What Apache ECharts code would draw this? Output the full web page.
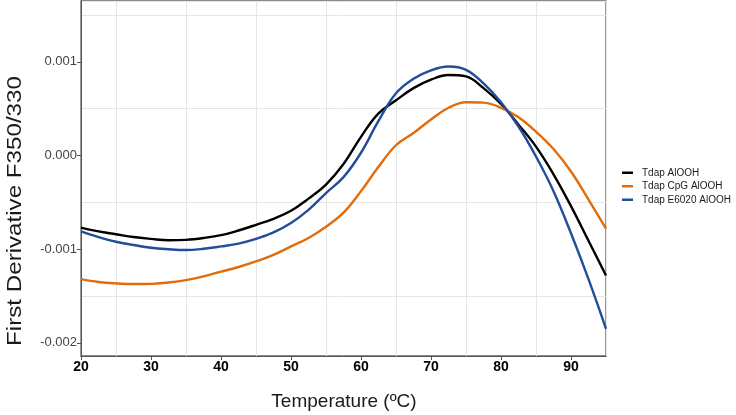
<!DOCTYPE html>
<html><head><meta charset="utf-8">
<script src="https://cdn.jsdelivr.net/npm/echarts@6/dist/echarts.min.js"></script>
<style>html,body{margin:0;padding:0;background:#fff}#c{width:736px;height:415px}</style>
</head><body><div id="c"></div>
<script>
// Temperature (°C) sample points
const temperature = [20,22.5,25,27.5,30,32.5,35,37.5,40,42.5,45,47.5,50,52.5,55,57.5,60,62.5,65,67.5,70,72.5,75,77.5,80,82.5,85,87.5,90,92.5,95];
// First derivative F350/330
const tdapAlOOH = [-0.00077,-0.00081,-0.00084,-0.00087,-0.00089,-0.000905,-0.00090,-0.00088,-0.00085,-0.00080,-0.00074,-0.000675,-0.00059,-0.00046,-0.00031,-0.00009,0.00020,0.00045,0.00059,0.00072,0.00081,0.00086,0.000845,0.00072,0.00055,0.00033,0.000095,-0.00020,-0.00054,-0.00091,-0.00128];
const tdapCpGAlOOH = [-0.00132,-0.00135,-0.001365,-0.001372,-0.00137,-0.001355,-0.00133,-0.00129,-0.00124,-0.00119,-0.00113,-0.00106,-0.00097,-0.00088,-0.00076,-0.00061,-0.00038,-0.00012,0.00011,0.00024,0.000385,0.00051,0.000569,0.000565,0.00051,0.00041,0.000255,0.00007,-0.00017,-0.00047,-0.00078];
const tdapE6020AlOOH = [-0.00081,-0.00087,-0.00092,-0.000955,-0.000985,-0.00100,-0.001008,-0.000995,-0.00097,-0.00094,-0.00089,-0.00082,-0.00072,-0.00058,-0.00040,-0.00023,0.00003,0.00037,0.000665,0.00082,0.00091,0.00095,0.000915,0.00077,0.00057,0.00031,-0.00001,-0.00038,-0.00083,-0.00132,-0.00185];
const seriesNames = ['Tdap AlOOH','Tdap CpG AlOOH','Tdap E6020 AlOOH'];
const seriesColors = ['#000000','#E36C0A','#1F4E9B'];
const xTickLabels = [20,30,40,50,60,70,80,90];
const yTickLabels = [-0.002,-0.001,0,0.001];
const X_MIN = 20, X_MAX = 95, Y_MIN = -0.00214, Y_MAX = 0.00165;

const pairs = arr => temperature.map((t,i)=>[t,arr[i]]);
const FONT = 'Liberation Sans, Arial, sans-serif';
const chart = echarts.init(document.getElementById('c'), null, {renderer:'canvas'});
const gridCol = '#e6e6e6';
chart.setOption({
  animation:false,
  backgroundColor:'#fff',
  grid:{left:81,right:130,top:1,bottom:59,show:true,borderColor:'#666',borderWidth:1.3,backgroundColor:'transparent'},
  legend:{
    orient:'vertical', left:617, top:161, itemWidth:11, itemHeight:2.5, itemGap:0,
    icon:'rect',
    textStyle:{fontFamily:FONT,fontSize:10,color:'#1a1a1a',lineHeight:13.5,padding:[0,0,0,4]},
    data:seriesNames
  },
  xAxis:[
    {type:'value',min:X_MIN,max:X_MAX,position:'bottom',
     axisLine:{show:true,onZero:false,lineStyle:{color:'#555',width:1}},
     axisTick:{show:true,length:4,lineStyle:{color:'#555'},customValues:xTickLabels},
     axisLabel:{customValues:xTickLabels,fontFamily:FONT,fontSize:14,fontWeight:'bold',color:'#000',margin:4},
     splitLine:{show:false}},
    {type:'value',min:X_MIN-5,max:X_MAX-5,position:'top',splitNumber:7,
     axisLine:{show:false,onZero:false},axisTick:{show:false},axisLabel:{show:false},
     splitLine:{show:true,lineStyle:{color:gridCol,width:1}}}
  ],
  yAxis:[
    {type:'value',min:Y_MIN,max:Y_MAX,position:'left',
     axisLine:{show:true,onZero:false,lineStyle:{color:'#555',width:1}},
     axisTick:{show:true,length:4,lineStyle:{color:'#555'},customValues:yTickLabels},
     axisLabel:{customValues:yTickLabels,fontFamily:FONT,fontSize:13,color:'#444',margin:4,
       formatter:v=>v.toFixed(3)},
     splitLine:{show:false}},
    {type:'value',min:Y_MIN-0.0005,max:Y_MAX-0.0005,position:'right',splitNumber:4,
     axisLine:{show:false,onZero:false},axisTick:{show:false},axisLabel:{show:false},
     splitLine:{show:true,lineStyle:{color:gridCol,width:1}}}
  ],
  graphic:[
    {type:'text',x:15,y:211,rotation:Math.PI/2,scaleX:1.15,scaleY:1,style:{text:'First Derivative F350/330',fontFamily:FONT,fontSize:21,fill:'#1a1a1a',textAlign:'center',textVerticalAlign:'middle'}},
    {type:'text',x:344,y:402,style:{text:'Temperature (ºC)',fontFamily:FONT,fontSize:19,fill:'#1a1a1a',textAlign:'center',textVerticalAlign:'middle'}}
  ],
  series:[tdapAlOOH,tdapCpGAlOOH,tdapE6020AlOOH].map((arr,i)=>({
    name:seriesNames[i],type:'line',xAxisIndex:0,yAxisIndex:0,smooth:0.4,showSymbol:false,
    data:pairs(arr),color:seriesColors[i],lineStyle:{width:2.4,color:seriesColors[i]},z:3+i
  }))
});
</script></body></html>
